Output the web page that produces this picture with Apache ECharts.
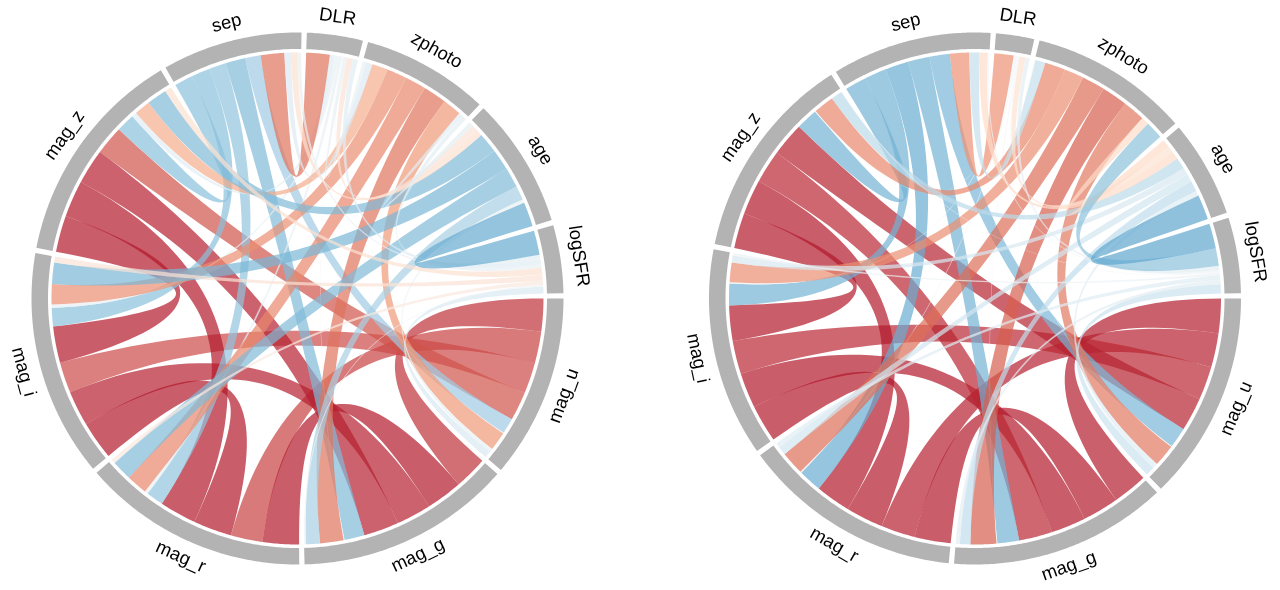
<!DOCTYPE html>
<html>
<head>
<meta charset="utf-8">
<script src="https://cdn.jsdelivr.net/npm/echarts@6/dist/echarts.min.js"></script>
<style>html,body{margin:0;padding:0;background:#fff}#c{width:1280px;height:590px}</style>
</head>
<body>
<div id="c"></div>
<script>
const nodes = ['mag_u','mag_g','mag_r','mag_i','mag_z','sep','DLR','zphoto','age','logSFR'];

// upper triangle of each correlation table, following the order of nodes
const leftU   = [.77,.74,.72,.68,-.36,-.02,.44,-.08,-.16];
const leftG   = [.85,.82,.82,-.47,-.02,.55,-.33,-.04];
const leftR   = [.90,.86,-.40,-.08,.49,-.47,.10];
const leftI   = [.85,-.43,-.08,.47,-.50,.14];
const leftZ   = [-.43,-.12,.37,-.47,.16];
const leftSep = [.55,-.15,.16,-.08];
const leftDlr = [-.08,.14,-.12];
const leftZp  = [-.10,-.10];
const leftAge = [-.57];

const rightU   = [.83,.82,.80,.81,-.49,-.02,.53,-.12,-.22];
const rightG   = [.87,.84,.80,-.52,-.02,.62,-.25,-.10];
const rightR   = [.90,.84,-.56,-.03,.56,-.20,-.12];
const rightI   = [.85,-.52,-.03,.47,-.17,-.06];
const rightZ   = [-.52,-.02,.49,-.27,-.02];
const rightSep = [.46,-.24,.20,-.04];
const rightDlr = [-.02,.15,-.10];
const rightZp  = [.19,-.42];
const rightAge = [-.60];

const leftRows  = [leftU,leftG,leftR,leftI,leftZ,leftSep,leftDlr,leftZp,leftAge];
const rightRows = [rightU,rightG,rightR,rightI,rightZ,rightSep,rightDlr,rightZp,rightAge];

const colorStops = [[-1,'#2166ac'],[-.8,'#4393c3'],[-.6,'#5fa6ce'],[-.4,'#92c5de'],[-.2,'#d1e5f0'],[0,'#f7f7f7'],
  [.2,'#fddbc7'],[.4,'#f4a582'],[.6,'#d9624f'],[.72,'#cc4a48'],[.78,'#bc2d36'],[.84,'#b2182b'],[1,'#b2182b']];

const GAP = 1.15, R_RIBBON = 246, R_RING_IN = 249.5, R_RING_OUT = 266, R_LABEL = 284;

function hex(c){return [1,3,5].map(i=>parseInt(c.substr(i,2),16));}
function colorOf(v){
  for(let i=1;i<colorStops.length;i++){
    if(v<=colorStops[i][0]){
      const [a,ca]=colorStops[i-1],[b,cb]=colorStops[i],t=(v-a)/(b-a),p=hex(ca),q=hex(cb);
      return `rgba(${p.map((x,k)=>Math.round(x+(q[k]-x)*t)).join(',')},0.7)`;
    }
  }
  return 'rgba(178,24,43,0.7)';
}

function layout(rows){
  const n=nodes.length, m=nodes.map(()=>new Array(n).fill(0));
  rows.forEach((row,i)=>row.forEach((v,k)=>{m[i][i+1+k]=v;m[i+1+k][i]=v;}));
  const sums=m.map(r=>r.reduce((s,v)=>s+Math.abs(v),0));
  const unit=(360-n*GAP)/sums.reduce((a,b)=>a+b,0);
  const slots=nodes.map(()=>({})), sectors=[];
  let cur=0;
  for(let i=0;i<n;i++){
    const start=cur, order=[];
    for(let j=i-1;j>=0;j--)order.push(j);
    for(let j=i+1;j<n;j++)order.push(j);
    order.forEach(j=>{const w=Math.abs(m[i][j])*unit;slots[i][j]=[cur,cur+w];cur+=w;});
    sectors.push([start,cur]);
    cur+=GAP;
  }
  const ribbons=[];
  for(let i=0;i<n;i++)for(let j=i+1;j<n;j++){
    const a=slots[i][j],b=slots[j][i];
    ribbons.push([R_RIBBON,(a[0]+a[1])/2,a[0],a[1],b[0],b[1],m[i][j]]);
  }
  return {ribbons,sectors};
}

function arcPts(api,r,a0,a1){
  const n=Math.max(2,Math.ceil(Math.abs(a1-a0)/0.5)),p=[];
  for(let i=0;i<=n;i++)p.push(api.coord([r,a0+(a1-a0)*i/n]));
  return p;
}
function quad(p0,c,p2){
  const p=[];
  for(let i=1;i<40;i++){
    const t=i/40,u=1-t;
    p.push([u*u*p0[0]+2*u*t*c[0]+t*t*p2[0],u*u*p0[1]+2*u*t*c[1]+t*t*p2[1]]);
  }
  return p;
}
function renderRibbon(params,api){
  const a1=api.value(2),a2=api.value(3),b1=api.value(4),b2=api.value(5),v=api.value(6);
  const c=api.coord([0,0]);
  const s=arcPts(api,R_RIBBON,a1,a2),t=arcPts(api,R_RIBBON,b1,b2);
  const pts=[...s,...quad(s[s.length-1],c,t[0]),...t,...quad(t[t.length-1],c,s[0])];
  return {type:'polygon',shape:{points:pts},style:{fill:colorOf(v)}};
}
function renderSector(params,api){
  const a=api.value(2),b=api.value(3),i=api.value(4);
  const pts=[...arcPts(api,R_RING_OUT,a,b),...arcPts(api,R_RING_IN,b,a)];
  const mid=(a+b)/2,pos=api.coord([R_LABEL,mid]);
  const cw=mid<180?mid-90:mid-270;
  return {type:'group',children:[
    {type:'polygon',shape:{points:pts},style:{fill:'#b3b3b3'}},
    {type:'text',x:pos[0],y:pos[1],rotation:-cw*Math.PI/180,originX:0,originY:0,
      style:{text:nodes[i],fill:'#000',font:'18.5px "Liberation Sans"',align:'center',verticalAlign:'middle'}}
  ]};
}

const charts=[[leftRows,297.5],[rightRows,975]];
const polar=[],angleAxis=[],radiusAxis=[],series=[];
charts.forEach(([rows,cx],k)=>{
  const {ribbons,sectors}=layout(rows);
  polar.push({center:[cx,298.5],radius:[0,R_RING_OUT]});
  angleAxis.push({polarIndex:k,type:'value',min:0,max:360,startAngle:0,clockwise:true,show:false,splitLine:{show:false},axisLine:{show:false},axisLabel:{show:false},axisTick:{show:false}});
  radiusAxis.push({polarIndex:k,type:'value',min:0,max:R_RING_OUT,show:false,splitLine:{show:false},axisLine:{show:false},axisLabel:{show:false},axisTick:{show:false}});
  series.push({type:'custom',coordinateSystem:'polar',polarIndex:k,clip:false,silent:true,encode:{radius:0,angle:1},
    data:ribbons,renderItem:renderRibbon,animation:false});
  series.push({type:'custom',coordinateSystem:'polar',polarIndex:k,clip:false,silent:true,encode:{radius:0,angle:1},
    data:sectors.map((s,i)=>[R_RING_OUT,(s[0]+s[1])/2,s[0],s[1],i]),renderItem:renderSector,animation:false});
});
const chart=echarts.init(document.getElementById('c'));
chart.setOption({animation:false,backgroundColor:'#fff',polar,angleAxis,radiusAxis,series});
</script>
</body>
</html>
